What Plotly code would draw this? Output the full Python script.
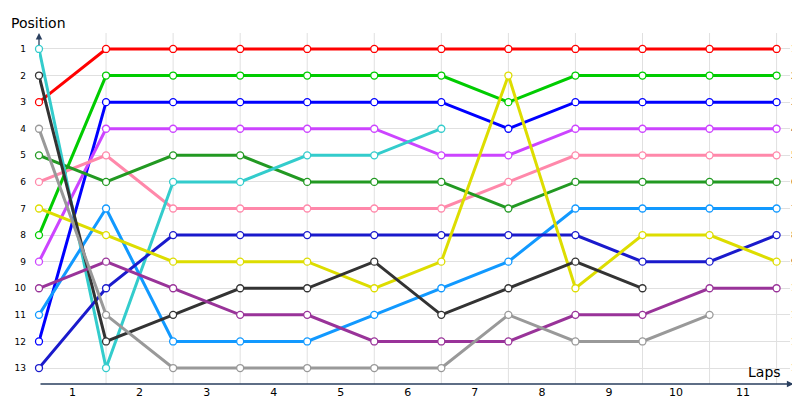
import plotly.graph_objects as go

laps = list(range(12))
lap_labels = [str(i) for i in range(1, 12)]
positions = list(range(1, 14))

series = {
    "red": [3, 1, 1, 1, 1, 1, 1, 1, 1, 1, 1, 1],
    "green": [8, 2, 2, 2, 2, 2, 2, 3, 2, 2, 2, 2],
    "blue": [12, 3, 3, 3, 3, 3, 3, 4, 3, 3, 3, 3],
    "magenta": [9, 4, 4, 4, 4, 4, 5, 5, 4, 4, 4, 4],
    "pink": [6, 5, 7, 7, 7, 7, 7, 6, 5, 5, 5, 5],
    "darkgreen": [5, 6, 5, 5, 6, 6, 6, 7, 6, 6, 6, 6],
    "cyan": [1, 13, 6, 6, 5, 5, 4],
    "lightblue": [11, 7, 12, 12, 12, 11, 10, 9, 7, 7, 7, 7],
    "navy": [13, 10, 8, 8, 8, 8, 8, 8, 8, 9, 9, 8],
    "yellow": [7, 8, 9, 9, 9, 10, 9, 2, 10, 8, 8, 9],
    "black": [2, 12, 11, 10, 10, 9, 11, 10, 9, 10],
    "violet": [10, 9, 10, 11, 11, 12, 12, 12, 11, 11, 10, 10],
    "gray": [4, 11, 13, 13, 13, 13, 13, 11, 12, 12, 11],
}
colors = {
    "red": "#ff0000", "green": "#00cc00", "blue": "#0000ff", "magenta": "#cc44ff",
    "pink": "#ff88aa", "darkgreen": "#229922", "cyan": "#33cccc", "lightblue": "#1199ff",
    "navy": "#1a1acc", "yellow": "#dddd00", "black": "#333333", "violet": "#993399",
    "gray": "#999999",
}

fig = go.Figure()
for name, vals in series.items():
    fig.add_trace(go.Scatter(
        x=laps[:len(vals)], y=vals, mode="lines+markers", name=name,
        line=dict(color=colors[name], width=3),
        marker=dict(size=7, color="white", line=dict(color=colors[name], width=1.3)),
        cliponaxis=False))
# invisible trace for the right-hand axis
fig.add_trace(go.Scatter(x=[0], y=[1], yaxis="y2", mode="markers",
                         marker=dict(opacity=0), hoverinfo="skip"))

fig.update_layout(
    width=800, height=400, showlegend=False,
    margin=dict(l=31, r=18, t=25, b=24, autoexpand=False),
    plot_bgcolor="white", paper_bgcolor="white",
    font=dict(family="DejaVu Sans", size=10, color="#000000"),
    xaxis=dict(range=[0, 11.2], tickvals=[i + 0.5 for i in range(11)], ticktext=lap_labels,
               showgrid=False, zeroline=False, showline=False, ticks="", automargin=False,
               tickfont=dict(size=11)),
    yaxis=dict(range=[13.6, 0.4], tickvals=positions, ticktext=[str(p) for p in positions],
               showgrid=True, gridcolor="#e0e0e0", zeroline=False, ticks="", automargin=False,
               ticklabelstandoff=12, tickfont=dict(size=9)),
    yaxis2=dict(range=[13.6, 0.4], overlaying="y", side="right", tickvals=positions,
                ticktext=[str(p) for p in positions], showgrid=False, zeroline=False,
                ticks="", automargin=False, tickfont=dict(size=9)),
)
# vertical grid at lap boundaries
for i in laps[1:]:
    fig.add_shape(type="line", x0=i, x1=i, y0=0, y1=1, yref="paper",
                  line=dict(color="#e0e0e0", width=1), layer="below")
# axes with arrows
fig.add_annotation(x=0, y=1.0, ax=0, ay=13.6, xref="x", yref="paper", axref="x", ayref="y",
                   showarrow=True, arrowhead=2, arrowsize=1, arrowwidth=1.3, text="")
fig.add_annotation(x=11.25, y=13.6, ax=0, ay=13.6, xref="x", yref="y", axref="x", ayref="y",
                   showarrow=True, arrowhead=2, arrowsize=1, arrowwidth=1.3, text="")
fig.add_annotation(x=0, y=1.0, xref="paper", yref="paper", yanchor="bottom", xanchor="left",
                   xshift=-30, yshift=0, text="Position", showarrow=False, font=dict(size=14))
fig.add_annotation(x=11.1, y=13.6, xref="x", yref="y", yanchor="bottom", xanchor="right",
                   yshift=2, text="Laps", showarrow=False, font=dict(size=14))

fig.write_html("out.html")
